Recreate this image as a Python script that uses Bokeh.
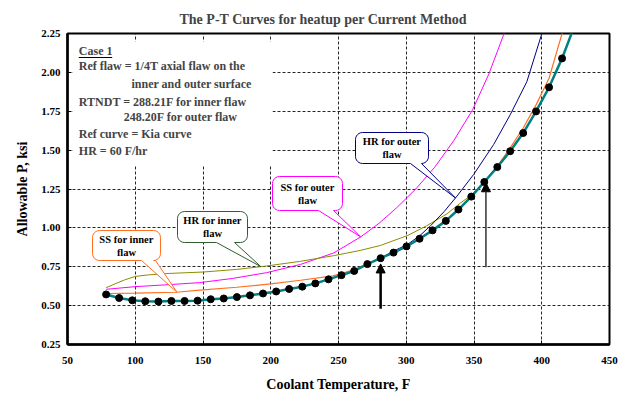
import math
import numpy as np
from bokeh.plotting import figure
from bokeh.models import (FixedTicker, PrintfTickFormatter, Label, BoxAnnotation,
                          Arrow, NormalHead)
from bokeh.embed import file_html
from bokeh.resources import INLINE

# ---------------- data ----------------
x_ticks = [50, 100, 150, 200, 250, 300, 350, 400, 450]
y_ticks = [0.25, 0.50, 0.75, 1.00, 1.25, 1.50, 1.75, 2.00, 2.25]

# composite curve (dots)
comp_T = [78.5, 88.1, 97.8, 107.4, 117.1, 126.7, 136.4, 146.0, 155.7, 165.3, 175.0, 184.7,
          194.3, 204.0, 213.6, 223.3, 232.9, 242.6, 252.2, 261.6, 271.3, 281.1, 290.6, 300.2,
          309.8, 319.4, 329.2, 338.5, 348.0, 357.6, 367.2, 376.7, 386.3, 395.8, 405.4, 415.0]
comp_P = [0.572, 0.549, 0.534, 0.528, 0.526, 0.530, 0.530, 0.532, 0.541, 0.546, 0.555, 0.566,
          0.578, 0.591, 0.607, 0.622, 0.643, 0.669, 0.696, 0.723, 0.767, 0.805, 0.841, 0.881,
          0.930, 0.984, 1.045, 1.118, 1.201, 1.295, 1.391, 1.493, 1.610, 1.749, 1.904, 2.090]
# composite line continues past the last dot
comp_line_T = comp_T + [423.3]
comp_line_P = comp_P + [2.28]

# SS for inner flaw
ss_in_T = [80, 100, 130, 150, 175, 200, 222, 246, 261.4, 271.3, 281.1, 290.6, 300.2, 309.8,
           319.4, 329.2, 338.5, 348.0, 357.6, 367.2, 376.7, 386.3, 395.8, 405.4, 415.9]
ss_in_P = [0.578, 0.580, 0.586, 0.601, 0.618, 0.640, 0.663, 0.691, 0.730, 0.767, 0.806, 0.842,
           0.882, 0.931, 0.985, 1.046, 1.119, 1.202, 1.296, 1.395, 1.514, 1.642, 1.791, 1.962, 2.277]

# HR for inner flaw
hr_in_T = [78.5, 85, 92, 100, 110, 125, 150, 175, 197, 222, 247, 266, 281, 296, 301, 315,
           330, 340, 348, 357.6]
hr_in_P = [0.615, 0.640, 0.665, 0.688, 0.698, 0.707, 0.716, 0.733, 0.755, 0.785, 0.822, 0.855,
           0.887, 0.935, 0.951, 1.013, 1.09, 1.16, 1.21, 1.295]

# SS for outer flaw
ss_out_T = [78.5, 100, 125, 147.5, 172, 197, 222, 246.5, 266.4, 280, 293, 307, 321, 335, 349,
            361, 373.5]
ss_out_P = [0.605, 0.622, 0.635, 0.648, 0.675, 0.712, 0.765, 0.839, 0.942, 1.03, 1.13, 1.25,
            1.39, 1.56, 1.76, 1.99, 2.28]

# HR for outer flaw
hr_out_T = [271.3, 281.1, 290.9, 300.7, 310, 318, 328, 337.5, 349.8, 364.5, 376.7, 389, 401.2]
hr_out_P = [0.767, 0.806, 0.852, 0.892, 0.95, 1.014, 1.105, 1.205, 1.344, 1.536, 1.727, 1.94, 2.281]

# arrows
arrow_T = [281.1, 358.8]
arrow_from = [0.48, 0.747]
arrow_to = [0.768, 1.29]

case_lines = ["Ref flaw = 1/4T axial flaw on the", "inner and outer surface",
              "RTNDT = 288.21F for inner flaw", "248.20F for outer flaw",
              "Ref curve = Kia curve", "HR = 60 F/hr"]

# ---------------- layout ----------------
X0, X1, Y0, Y1 = 50, 450, 0.25, 2.25
W, H = 627, 396
# frame in page pixels
FL, FR, FT, FB = 67, 609, 33, 344
SERIF = "Liberation Serif"

def d(px, py):
    return (X0 + (px - FL) * (X1 - X0) / (FR - FL),
            Y0 + (FB - py) * (Y1 - Y0) / (FB - FT))

def topx(T, P):
    return (FL + (T - X0) * (FR - FL) / (X1 - X0),
            FB - (P - Y0) * (FB - FT) / (Y1 - Y0))

p = figure(width=W, height=H, x_range=(X0, X1), y_range=(Y0, Y1),
           output_backend="svg", toolbar_location=None,
           min_border_left=FL, min_border_right=W - FR,
           min_border_top=FT, min_border_bottom=H - FB)
p.background_fill_color = "white"
p.border_fill_color = "white"
p.outline_line_color = "black"
p.outline_line_width = 2

p.title.text = "The P-T Curves for heatup per Current Method"
p.title.text_font = SERIF
p.title.text_font_size = "14px"
p.title.text_font_style = "bold"
p.title.align = "left"
p.title.offset = 112
p.title.standoff = 14

for ax in (p.xaxis[0], p.yaxis[0]):
    ax.axis_line_width = 2.5
    ax.axis_line_color = "black"
    ax.major_tick_in = 4
    ax.major_tick_out = 0
    ax.minor_tick_line_color = None
    ax.major_tick_line_color = "black"
    ax.major_label_text_font = SERIF
    ax.major_label_text_font_style = "bold"
    ax.major_label_text_font_size = "11px"
    ax.major_label_text_color = "black"
    ax.axis_label_text_font = SERIF
    ax.axis_label_text_font_style = "bold"
    ax.axis_label_text_font_size = "14px"
    ax.axis_label_text_color = "black"

p.xaxis.ticker = FixedTicker(ticks=x_ticks)
p.yaxis.ticker = FixedTicker(ticks=y_ticks)
p.xgrid.ticker = FixedTicker(ticks=x_ticks)
p.ygrid.ticker = FixedTicker(ticks=y_ticks)
p.yaxis.formatter = PrintfTickFormatter(format="%.2f")
p.xaxis.axis_label = "Coolant Temperature, F"
p.yaxis.axis_label = "Allowable P, ksi"
p.xaxis.major_label_standoff = 12
p.xaxis.axis_label_standoff = 10
p.yaxis.major_label_standoff = 7
p.yaxis.axis_label_standoff = 8

p.xgrid.grid_line_color = "black"
p.ygrid.grid_line_color = "black"
p.xgrid.grid_line_dash = "3 2"
p.ygrid.grid_line_dash = "3 2"
p.xgrid.grid_line_width = 1
p.ygrid.grid_line_width = 1
p.xgrid.grid_line_alpha = 0.85
p.ygrid.grid_line_alpha = 0.85

# white text area
lt, tp = d(72, 41)
rt, bt = d(272, 165)
p.add_layout(BoxAnnotation(left=lt, right=rt, top=tp, bottom=bt, fill_color="white",
                           fill_alpha=1, line_alpha=0))

# curves
p.line(ss_out_T, ss_out_P, color="#FF00FF", line_width=1)
p.line(hr_in_T, hr_in_P, color="#8C8C00", line_width=1)
p.line(hr_out_T, hr_out_P, color="#000080", line_width=1)
p.line(ss_in_T, ss_in_P, color="#FF7020", line_width=1.2)
p.line(comp_line_T, comp_line_P, color="#008080", line_width=2.5)
p.scatter(comp_T, comp_P, size=7, color="black")

# callouts
def callout_poly(box, base, tip, r=7, n=6):
    x0, y0, x1, y1 = box
    pts = []
    def arc(cx, cy, a0, a1):
        for i in range(n + 1):
            a = math.radians(a0 + (a1 - a0) * i / n)
            pts.append((cx + r * math.cos(a), cy + r * math.sin(a)))
    arc(x1 - r, y0 + r, -90, 0)
    arc(x1 - r, y1 - r, 0, 90)
    pts.append((base[1], y1))
    pts.append(tip)
    pts.append((base[0], y1))
    arc(x0 + r, y1 - r, 90, 180)
    arc(x0 + r, y0 + r, 180, 270)
    xs, ys = zip(*[d(a, b) for a, b in pts])
    return list(xs), list(ys)

callouts = [
    (["SS for inner", "flaw"], "#FF7020", (92, 230, 160, 260), (141, 155), 130.8, ss_in_T, ss_in_P),
    (["HR for inner", "flaw"], "#2E5E2E", (177, 211, 247, 242), (216, 234), 192.7, hr_in_T, hr_in_P),
    (["SS for outer", "flaw"], "#FF00FF", (272, 176, 342, 210), (318, 333), 266.4, ss_out_T, ss_out_P),
    (["HR for outer", "flaw"], "#000080", (355, 132, 428, 163), (410, 421), 336.3, hr_out_T, hr_out_P),
]
for lines, col, box, base, tT, cT, cP in callouts:
    tip = topx(tT, float(np.interp(tT, cT, cP)))
    xs, ys = callout_poly(box, base, tip)
    p.patch(xs, ys, fill_color="white", line_color=col, line_width=1)
    cx = (box[0] + box[2]) / 2
    cy = (box[1] + box[3]) / 2
    for k, t in enumerate(lines):
        lx, ly = d(cx, cy - 6.5 + 13 * k)
        p.add_layout(Label(x=lx, y=ly, text=t, text_align="center", text_baseline="middle",
                           text_font=SERIF, text_font_style="bold", text_font_size="10.5px",
                           text_color="black"))

# case text
cx0, cy0 = d(78.3, 50.7)
p.add_layout(Label(x=cx0, y=cy0, text="Case 1", text_align="left", text_baseline="middle",
                   text_font=SERIF, text_font_style="bold", text_font_size="12px"))
ux0, uy0 = d(78.3, 56.5)
ux1, uy1 = d(111.7, 57.5)
p.add_layout(BoxAnnotation(left=ux0, right=ux1, top=uy0, bottom=uy1, fill_color="black",
                           fill_alpha=1, line_alpha=0))
case_pos = [(78.3, 65), (131, 83.3), (78.3, 101), (123.3, 116), (78.3, 133.3), (78.3, 150)]
for t, (px, py) in zip(case_lines, case_pos):
    lx, ly = d(px, py)
    p.add_layout(Label(x=lx, y=ly, text=t, text_align="left", text_baseline="middle",
                       text_font=SERIF, text_font_style="bold", text_font_size="12px"))

# arrows
widths = [2.5, 1.5]
colors = ["black", "#333333"]
for T, a, b, w, c in zip(arrow_T, arrow_from, arrow_to, widths, colors):
    p.add_layout(Arrow(end=NormalHead(size=9, fill_color="black", line_color="black"),
                       x_start=T, y_start=a, x_end=T, y_end=b, line_width=w, line_color=c))

open("out.html", "w").write(file_html(p, INLINE))
